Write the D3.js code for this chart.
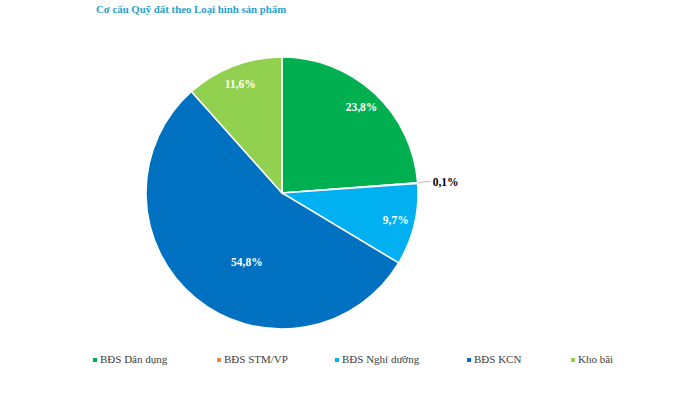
<!DOCTYPE html>
<html>
<head>
<meta charset="utf-8">
<script src="https://cdn.jsdelivr.net/npm/d3@7"></script>
<style>
body { margin: 0; background: #fff; }
svg { display: block; }
</style>
</head>
<body>
<svg id="chart"></svg>
<script>
var screen = {width: 673, height: 397};
var font = "Liberation Serif";

var categories = ["BĐS Dân dụng", "BĐS STM/VP", "BĐS Nghỉ dưỡng", "BĐS KCN", "Kho bãi"];
var values = [23.8, 0.1, 9.7, 54.8, 11.6];
var labels = ["23,8%", "0,1%", "9,7%", "54,8%", "11,6%"];
var colors = ["#00b050", "#e08a4a", "#00b0f0", "#0070c0", "#92d050"];
var title = "Cơ cấu Quỹ đất theo Loại hình sản phẩm";

var data = categories.map(function(c, i) {
    return {name: c, value: values[i], label: labels[i]};
});

var svg = d3.select("#chart")
    .attr("width", screen.width)
    .attr("height", screen.height)
    .attr("font-family", font);

svg.append("text")
    .attr("x", 96)
    .attr("y", 13)
    .attr("fill", "#2a9fcb")
    .attr("font-weight", "bold")
    .attr("font-size", 10.8)
    .attr("font-family", font)
    .text(title);

var cScale = d3.scaleOrdinal().domain(categories).range(colors);

var cx = 282, cy = 193, radius = 136;

var pie = d3.pie().sort(null).value(function(d) { return d.value; });
var arcs = pie(data);

var arc = d3.arc().innerRadius(0).outerRadius(radius);

var g = svg.append("g")
    .attr("transform", "translate(" + cx + "," + cy + ")");

g.selectAll("path")
    .data(arcs)
    .enter()
    .append("path")
    .attr("d", arc)
    .attr("fill", function(d) { return cScale(d.data.name); })
    .attr("stroke", "#fff")
    .attr("stroke-width", 1.5);

// labels inside slices; the big one sits nearer the centre (excel best fit)
var labelPos = function(d) {
    var a = (d.startAngle + d.endAngle) / 2;
    var rr = radius * 0.86;
    if (d.data.value > 50) { a = a - 0.22; rr = radius * 0.57; }
    return [Math.sin(a) * rr, -Math.cos(a) * rr];
};

g.selectAll("text.lbl")
    .data(arcs.filter(function(d) { return d.data.value > 1; }))
    .enter()
    .append("text")
    .attr("class", "lbl")
    .attr("transform", function(d) {
        var p = labelPos(d);
        return "translate(" + p[0] + "," + (p[1] + 4) + ")";
    })
    .attr("text-anchor", "middle")
    .attr("fill", "#fff")
    .attr("font-weight", "bold")
    .attr("font-size", 11.5)
    .attr("font-family", font)
    .text(function(d) { return d.data.label; });

// tiny slice: label outside with leader line
arcs.filter(function(d) { return d.data.value <= 1; }).forEach(function(d) {
    var a = (d.startAngle + d.endAngle) / 2;
    var x0 = Math.sin(a) * radius, y0 = -Math.cos(a) * radius;
    g.append("polyline")
        .attr("points", [[x0, y0], [x0 + 8, y0 - 1.5], [x0 + 13, y0 - 1.5]].map(function(p) { return p.join(","); }).join(" "))
        .attr("fill", "none")
        .attr("stroke", "#a6a6a6")
        .attr("stroke-width", 0.8);
    g.append("text")
        .attr("x", x0 + 15)
        .attr("y", y0 + 2.5)
        .attr("fill", "#000")
        .attr("font-weight", "bold")
        .attr("font-size", 11.5)
        .attr("font-family", font)
        .text(d.data.label);
});

// legend
var legendX = [93, 217, 335, 467, 571];
var lg = svg.append("g").attr("id", "legend")
    .selectAll("g")
    .data(categories)
    .enter()
    .append("g")
    .attr("transform", function(d, i) { return "translate(" + legendX[i] + ",362)"; });

lg.append("rect")
    .attr("x", 0)
    .attr("y", -4)
    .attr("width", 4)
    .attr("height", 4)
    .attr("fill", function(d) { return cScale(d); });

lg.append("text")
    .attr("x", 7)
    .attr("y", 1)
    .attr("fill", "#404040")
    .attr("font-size", 11)
    .attr("font-family", font)
    .text(function(d) { return d; });
</script>
</body>
</html>
